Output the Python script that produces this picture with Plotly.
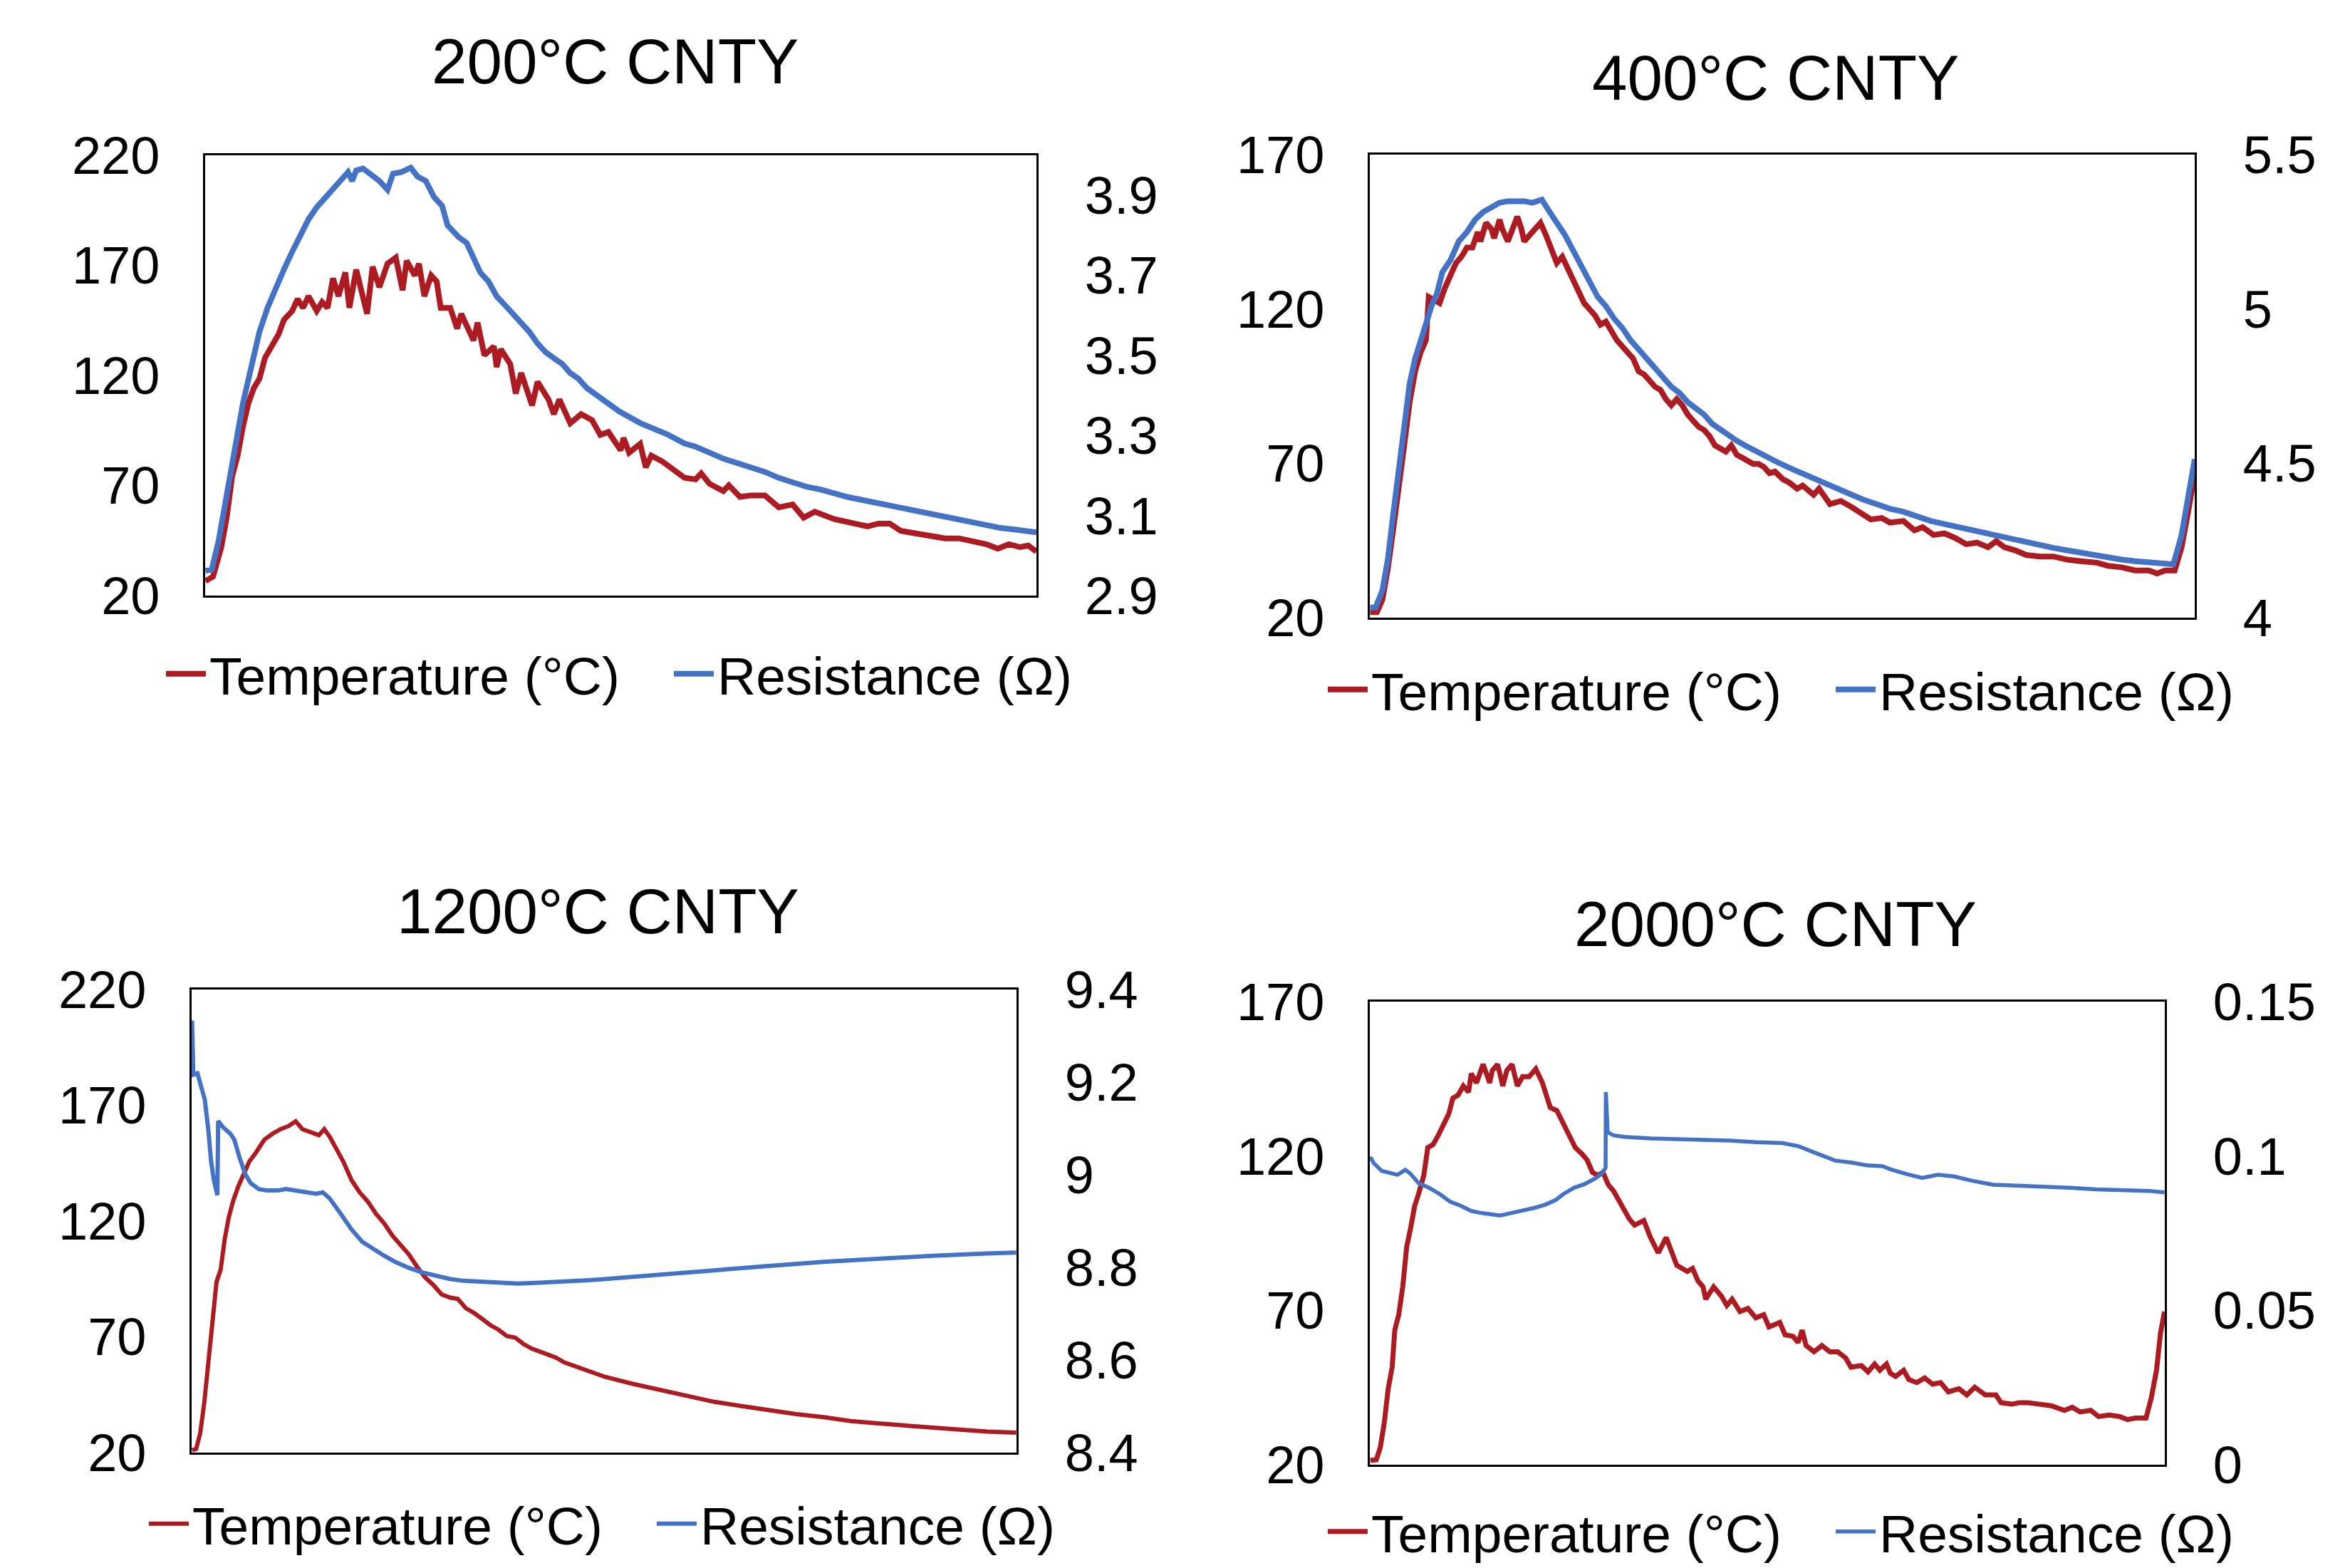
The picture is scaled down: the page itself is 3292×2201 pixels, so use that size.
import plotly.graph_objects as go

W, H = 3292, 2201
FONT = "Liberation Sans, Arial, Helvetica, sans-serif"
RED = "#AD1B22"
BLUE = "#4472C4"

# ---------------- data (x = relative time, % of record) ----------------
# 200 °C CNTY
t200_x = [0.04, 0.95, 1.94, 2.59, 3.25, 3.91, 4.56, 5.22, 5.87, 6.53, 7.19, 7.84, 8.82, 9.48, 10.47, 11.12,
          11.78, 12.43, 13.42, 14.07, 14.73, 15.38, 16.04, 16.86, 17.35, 18.17, 18.99, 19.48, 20.14, 20.96,
          21.94, 22.93, 23.75, 24.24, 25.22, 25.72, 26.37, 27.19, 27.85, 28.34, 29.49, 30.31, 30.80, 31.78,
          32.28, 32.77, 33.59, 34.74, 35.06, 35.56, 36.70, 37.36, 38.02, 39.33, 39.98, 41.30, 41.95, 42.61,
          43.92, 45.23, 46.54, 47.53, 48.51, 49.99, 50.33, 51.0, 52.33, 53.0, 53.67, 55.0, 56.34, 57.67,
          59.0, 59.67, 60.67, 62.34, 63.0, 64.34, 65.67, 67.34, 69.0, 70.67, 72.0, 73.34, 75.68, 77.34,
          79.68, 81.01, 82.34, 83.68, 85.68, 87.35, 89.01, 90.68, 92.35, 94.01, 95.35, 96.68, 98.02, 99.02, 100.0]
t200_temp = [26.6, 28.6, 42.0, 55.4, 74.2, 83.6, 97.0, 107.7, 114.4, 118.5, 127.9, 131.9, 138.6, 145.3, 149.3, 154.7,
             150.7, 156.0, 149.3, 153.3, 150.7, 164.1, 156.0, 166.8, 150.7, 168.1, 156.0, 148.0, 169.4, 160.1,
             170.8, 173.5, 158.7, 172.1, 165.4, 170.8, 156.0, 165.4, 162.7, 150.7, 150.7, 141.3, 148.0, 139.9,
             135.9, 144.0, 129.2, 133.2, 123.8, 131.9, 125.2, 111.8, 121.1, 106.4, 117.1, 109.1, 102.4, 109.1,
             98.3, 102.4, 99.7, 93.0, 94.3, 86.0, 91.6, 84.9, 88.9, 78.2, 83.6, 80.9, 76.9, 73.5,
             72.8, 75.5, 70.8, 67.5, 70.1, 64.8, 65.5, 65.5, 60.1, 61.4, 55.4, 58.1, 54.7, 53.4,
             51.4, 52.7, 52.7, 49.4, 48.0, 47.3, 46.0, 46.0, 44.7, 43.3, 41.3, 43.3, 42.0, 42.7, 40.0]
r200_x = [0.04, 0.79, 1.61, 2.59, 3.58, 4.56, 5.55, 6.53, 7.51, 8.50, 9.48, 10.47, 11.45, 12.43, 13.42, 14.40,
          15.38, 16.37, 17.19, 17.68, 18.17, 18.99, 19.81, 20.96, 21.94, 22.60, 23.58, 24.73, 25.55, 26.54,
          27.52, 28.50, 29.16, 30.47, 31.46, 32.44, 33.10, 34.08, 35.06, 36.05, 37.03, 38.02, 39.0, 39.98,
          40.97, 41.95, 42.94, 43.92, 44.90, 45.89, 46.87, 47.86, 48.84, 49.82, 52.33, 54.0, 55.67, 57.67,
          59.0, 60.67, 62.34, 64.0, 65.67, 67.34, 69.0, 70.67, 72.34, 74.01, 75.68, 77.34, 79.01, 80.68,
          82.34, 84.01, 85.68, 87.35, 89.01, 90.68, 92.35, 94.01, 95.68, 97.35, 100.0]
r200_res = [2.962, 2.965, 3.036, 3.146, 3.272, 3.382, 3.471, 3.559, 3.619, 3.671, 3.715, 3.759, 3.803, 3.840, 3.870, 3.892,
            3.914, 3.936, 3.958, 3.936, 3.962, 3.967, 3.954, 3.936, 3.914, 3.954, 3.958, 3.969, 3.947, 3.936,
            3.896, 3.874, 3.825, 3.796, 3.781, 3.737, 3.707, 3.685, 3.648, 3.626, 3.604, 3.582, 3.559, 3.530,
            3.508, 3.493, 3.479, 3.456, 3.442, 3.419, 3.405, 3.390, 3.375, 3.360, 3.331, 3.316, 3.302, 3.280,
            3.272, 3.257, 3.242, 3.231, 3.220, 3.209, 3.194, 3.183, 3.172, 3.165, 3.154, 3.146, 3.139, 3.132,
            3.124, 3.117, 3.110, 3.101, 3.095, 3.088, 3.080, 3.074, 3.069, 3.065, 3.058]

# 400 °C CNTY
t400_x = [0.04, 0.86, 1.52, 2.18, 2.85, 3.51, 4.17, 4.83, 5.49, 6.15, 6.81, 7.14, 7.80, 8.46, 9.12, 9.79, 10.45,
          11.11, 11.77, 12.43, 13.09, 13.42, 14.08, 14.74, 15.07, 15.73, 16.06, 16.73, 17.39, 17.88, 18.38,
          18.71, 19.37, 20.03, 20.69, 21.35, 22.01, 22.67, 23.33, 24.0, 24.66, 25.32, 25.98, 26.64, 27.30,
          27.96, 28.62, 29.28, 29.94, 30.60, 31.27, 31.93, 32.59, 33.25, 33.91, 34.57, 35.23, 35.89, 36.55,
          37.21, 37.88, 38.54, 39.20, 39.86, 40.52, 41.18, 41.84, 42.50, 43.16, 43.82, 44.48, 45.15, 45.81,
          46.47, 47.13, 47.79, 48.45, 49.11, 50.10, 50.82, 51.81, 52.47, 53.80, 54.46, 55.78, 57.10, 58.42,
          59.41, 60.74, 62.06, 63.05, 64.70, 66.02, 67.01, 68.34, 69.66, 70.98, 72.30, 73.62, 74.95, 75.94,
          76.93, 78.25, 79.57, 81.22, 82.88, 84.53, 86.18, 88.16, 89.49, 91.14, 92.79, 94.44, 95.43, 96.43,
          97.58, 98.41, 99.24, 100.0]
t400_temp = [21.8, 21.8, 25.8, 35.8, 48.8, 63.8, 75.8, 89.8, 99.8, 105.8, 109.9, 123.9, 122.9, 121.9, 126.9, 130.9, 134.9,
             136.9, 139.9, 139.9, 144.9, 141.9, 147.9, 145.9, 142.9, 148.9, 145.9, 141.9, 146.9, 149.9, 145.9,
             141.9, 143.9, 145.9, 147.9, 143.9, 139.9, 134.9, 136.9, 132.9, 129.9, 125.9, 121.9, 119.9, 117.9,
             114.9, 115.9, 112.9, 109.9, 107.9, 105.9, 103.9, 99.8, 98.8, 96.8, 94.8, 93.8, 90.8, 88.8,
             90.8, 88.8, 85.8, 83.8, 81.8, 80.8, 78.8, 75.8, 74.8, 73.8, 75.8, 72.8, 71.8, 70.8,
             69.8, 69.8, 68.8, 66.8, 67.3, 64.8, 63.8, 61.8, 62.8, 59.8, 61.8, 56.8, 57.8, 55.8,
             54.3, 51.8, 52.3, 50.8, 51.3, 48.3, 49.3, 46.8, 47.3, 45.8, 43.8, 44.3, 42.8, 44.8,
             42.8, 41.8, 40.3, 39.8, 39.8, 38.8, 38.3, 37.8, 36.8, 36.3, 35.3, 35.3, 34.3, 35.3,
             35.3, 42.8, 54.8, 66.8]
r400_x = [0.04, 0.70, 1.52, 2.18, 2.85, 3.51, 4.17, 4.83, 5.49, 6.15, 6.81, 7.47, 8.13, 8.79, 9.79, 10.78, 11.77,
          12.76, 13.75, 14.74, 15.73, 16.73, 17.72, 18.71, 19.70, 20.86, 21.68, 22.67, 23.67, 24.66, 25.65,
          26.64, 27.63, 28.62, 29.61, 30.60, 31.60, 32.59, 33.58, 34.57, 35.56, 36.55, 37.54, 38.54, 39.53,
          40.52, 41.51, 42.50, 43.49, 44.48, 45.48, 46.47, 47.46, 48.45, 49.44, 51.48, 53.13, 54.79, 56.44,
          58.09, 59.74, 61.40, 63.05, 64.70, 66.35, 68.01, 69.66, 71.31, 72.96, 74.62, 76.27, 77.92, 79.57,
          81.22, 82.88, 84.53, 86.18, 87.83, 89.49, 91.14, 92.79, 94.44, 96.10, 97.42, 98.41, 99.24, 100.0]
r400_res = [4.033, 4.033, 4.088, 4.188, 4.338, 4.488, 4.638, 4.758, 4.839, 4.899, 4.959, 5.009, 5.049, 5.119, 5.159, 5.219, 5.249,
            5.289, 5.314, 5.329, 5.344, 5.349, 5.349, 5.349, 5.344, 5.354, 5.319, 5.279, 5.239, 5.189, 5.139,
            5.089, 5.039, 5.009, 4.969, 4.939, 4.899, 4.869, 4.839, 4.809, 4.778, 4.748, 4.728, 4.698, 4.678,
            4.658, 4.628, 4.608, 4.588, 4.573, 4.558, 4.543, 4.528, 4.513, 4.503, 4.478, 4.458, 4.438, 4.418,
            4.403, 4.383, 4.368, 4.353, 4.343, 4.328, 4.313, 4.303, 4.293, 4.283, 4.273, 4.263, 4.253, 4.243,
            4.233, 4.226, 4.218, 4.210, 4.203, 4.196, 4.188, 4.183, 4.178, 4.175, 4.173, 4.268, 4.408, 4.513]

# 1200 °C CNTY
t1200_x = [0.05, 0.55, 1.04, 1.54, 2.03, 2.53, 3.02, 3.52, 4.02, 4.51, 5.01, 5.67, 6.33, 6.99, 7.82, 8.81, 9.80,
           10.79, 11.78, 12.61, 13.43, 14.42, 15.42, 16.08, 16.74, 17.56, 18.39, 19.38, 20.37, 21.36, 22.36,
           23.35, 24.34, 25.33, 26.32, 27.31, 28.30, 29.30, 30.29, 31.28, 32.27, 33.26, 34.25, 35.24, 36.24,
           37.23, 38.22, 39.21, 40.20, 41.19, 42.19, 43.18, 44.17, 45.16, 46.15, 47.14, 48.13, 49.12, 50.12,
           53.47, 56.78, 60.08, 63.39, 66.69, 70.0, 73.30, 76.61, 79.91, 83.22, 86.52, 89.83, 93.13, 96.44, 99.97]
t1200_temp = [21.0, 21.6, 28.3, 41.7, 59.0, 79.0, 93.7, 99.0, 112.4, 121.7, 128.4, 135.1, 140.4, 145.7, 149.7, 155.1, 157.7,
              159.7, 161.1, 163.1, 159.7, 158.4, 157.1, 159.7, 156.4, 151.1, 145.7, 137.7, 132.4, 128.4, 123.1,
              119.0, 113.7, 109.7, 105.7, 100.4, 95.7, 92.4, 88.4, 87.0, 86.4, 82.3, 80.3, 77.7, 75.0,
              73.0, 70.3, 69.7, 67.0, 65.0, 63.7, 62.3, 61.0, 59.0, 57.7, 56.3, 55.0, 53.7, 52.7,
              49.7, 47.0, 44.3, 41.9, 40.1, 38.3, 36.6, 35.3, 33.6, 32.6, 31.6, 30.7, 29.9, 29.1, 28.6]
r1200_x = [0.05, 0.21, 0.71, 1.21, 1.60, 2.03, 2.36, 2.69, 3.12, 3.22, 3.85, 4.68, 5.17, 5.83, 6.49, 7.15, 8.15,
           9.14, 10.46, 11.45, 12.44, 13.76, 15.09, 15.91, 16.74, 18.06, 19.38, 20.70, 22.03, 23.35, 24.67,
           26.32, 27.97, 29.63, 31.28, 32.93, 34.58, 36.24, 37.89, 39.54, 41.19, 42.85, 44.50, 46.15, 47.80,
           49.46, 56.78, 63.39, 70.0, 76.61, 83.22, 89.83, 96.44, 99.97]
r1200_res = [9.333, 9.216, 9.219, 9.189, 9.162, 9.096, 9.029, 8.989, 8.956, 9.116, 9.102, 9.089, 9.076, 9.036, 9.002, 8.982, 8.969,
             8.966, 8.966, 8.969, 8.966, 8.962, 8.959, 8.962, 8.949, 8.916, 8.882, 8.855, 8.839, 8.825, 8.812,
             8.799, 8.789, 8.781, 8.775, 8.771, 8.769, 8.767, 8.765, 8.765, 8.766, 8.767, 8.769, 8.770, 8.772,
             8.774, 8.785, 8.795, 8.803, 8.812, 8.819, 8.825, 8.830, 8.832]

# 2000 °C CNTY
t2000_x = [0.06, 0.82, 1.32, 1.82, 2.31, 2.81, 3.14, 3.64, 4.14, 4.64, 5.13, 5.63, 6.13, 6.79, 7.29, 7.95, 8.61,
           9.28, 9.94, 10.44, 11.10, 11.76, 12.42, 12.76, 13.42, 14.25, 15.08, 15.41, 16.07, 16.73, 17.23,
           17.89, 18.56, 19.22, 20.05, 20.88, 21.71, 22.20, 22.70, 23.53, 24.36, 25.19, 25.85, 26.68, 27.34,
           28.00, 28.67, 29.33, 29.99, 30.65, 31.65, 32.64, 33.31, 34.47, 35.30, 36.29, 37.28, 37.95, 38.61,
           39.93, 40.60, 41.26, 41.92, 42.25, 43.25, 44.24, 44.91, 45.57, 46.56, 47.56, 48.55, 49.55, 50.21,
           51.57, 52.23, 53.22, 53.89, 54.38, 54.88, 55.88, 56.87, 57.86, 58.86, 59.85, 60.52, 61.84, 62.67,
           63.50, 64.16, 64.99, 65.49, 66.15, 67.15, 67.81, 68.80, 69.80, 70.79, 71.79, 72.78, 74.11, 75.10,
           76.10, 77.42, 78.75, 79.41, 80.74, 81.73, 82.72, 84.05, 85.71, 87.36, 88.36, 89.35, 90.68, 91.67,
           93.0, 94.32, 95.32, 96.31, 97.64, 98.30, 98.96, 99.46, 99.96]
t2000_temp = [21.4, 21.6, 25.6, 33.6, 44.6, 51.6, 63.6, 68.6, 77.6, 90.6, 96.6, 103.7, 107.7, 113.7, 122.7, 123.7, 126.7,
              130.7, 133.7, 138.7, 139.7, 142.7, 140.7, 146.7, 143.7, 149.7, 143.7, 147.7, 149.7, 142.7, 147.7,
              149.7, 142.7, 145.7, 145.7, 148.2, 143.7, 139.7, 135.7, 134.7, 130.7, 126.7, 122.7, 120.7, 118.7,
              114.7, 113.7, 114.7, 110.7, 108.7, 103.7, 99.6, 97.6, 99.1, 93.6, 88.6, 93.6, 88.6, 84.6,
              82.6, 83.6, 79.6, 77.6, 73.6, 77.6, 74.6, 71.6, 73.6, 69.6, 70.6, 67.6, 68.6, 64.6,
              66.1, 62.1, 61.6, 59.6, 63.6, 58.6, 56.6, 58.6, 56.6, 56.6, 54.6, 51.6, 52.1, 50.1,
              52.6, 50.6, 52.6, 49.6, 48.6, 50.6, 47.6, 46.6, 48.1, 46.1, 46.6, 43.6, 44.6, 42.6,
              45.1, 42.6, 42.6, 40.1, 39.6, 40.1, 40.1, 39.6, 39.1, 37.6, 38.6, 37.1, 37.6, 35.6,
              36.1, 35.6, 34.6, 35.1, 35.1, 41.6, 50.6, 62.6, 69.6]
r2000_x = [0.06, 0.49, 1.49, 2.48, 3.48, 4.47, 5.13, 6.13, 7.45, 8.78, 10.10, 11.43, 12.76, 14.08, 15.41, 16.40,
           17.73, 19.05, 20.71, 22.04, 23.36, 24.36, 25.68, 27.01, 28.33, 29.16, 29.66, 29.69, 29.92, 30.65,
           31.98, 35.30, 38.61, 41.92, 45.24, 48.55, 51.90, 53.89, 55.88, 58.53, 60.52, 62.51, 64.49, 65.49,
           67.48, 69.47, 71.45, 73.44, 75.76, 78.41, 81.40, 84.71, 88.03, 91.34, 94.66, 97.97, 99.96]
r2000_res = [0.0997, 0.0977, 0.0952, 0.0947, 0.0939, 0.0955, 0.0942, 0.0912, 0.0897, 0.0877, 0.0852, 0.0839, 0.0822, 0.0815, 0.0810, 0.0807,
             0.0815, 0.0822, 0.0832, 0.0842, 0.0857, 0.0877, 0.0897, 0.0909, 0.0927, 0.0942, 0.0962, 0.1207, 0.1077, 0.1067,
             0.1062, 0.1057, 0.1055, 0.1053, 0.1050, 0.1045, 0.1042, 0.1032, 0.1012, 0.0985, 0.0979, 0.0970, 0.0967, 0.0957,
             0.0942, 0.0929, 0.0939, 0.0934, 0.0920, 0.0907, 0.0904, 0.0902, 0.0897, 0.0892, 0.0889, 0.0887, 0.0882]

titles = ["200°C CNTY", "400°C CNTY", "1200°C CNTY", "2000°C CNTY"]
temp_ranges = [[20, 220], [20, 170], [20, 220], [20, 170]]
res_ranges = [[2.9, 4.0], [4.0, 5.5], [8.4, 9.4], [0.0, 0.15]]
res_dticks = [0.2, 0.5, 0.2, 0.05]
series = [
    (t200_x, t200_temp, r200_x, r200_res),
    (t400_x, t400_temp, r400_x, r400_res),
    (t1200_x, t1200_temp, r1200_x, r1200_res),
    (t2000_x, t2000_temp, r2000_x, r2000_res),
]
red_widths = [8, 8, 6, 7]
blue_widths = [8, 8, 6, 5.5]

# ---------------- layout geometry (pixels) ----------------
frames = [(288, 1455, 218, 836), (1923, 3081, 217, 867), (269, 1427, 1389, 2039), (1923, 3039, 1406, 2056)]
title_pos = [(863, 86), (2492, 109), (839, 1279), (2492, 1297)]
legend_pos = [(228, 946), (1859, 968), (204, 2139), (1859, 2150)]


def px_x(v):
    return v / W


def px_y(v):
    return 1 - v / H


fig = go.Figure()
layout = dict(
    width=W, height=H, autosize=False,
    margin=dict(l=0, r=0, t=0, b=0, pad=0, autoexpand=False),
    paper_bgcolor="white", plot_bgcolor="white",
    font=dict(family=FONT, size=74, color="black"),
    annotations=[],
)

for i, (tx, tv, rx, rv) in enumerate(series):
    n = i + 1
    xa = "x" if n == 1 else f"x{n}"
    ya_l = "y" if n == 1 else f"y{2 * n - 1}"
    ya_r = f"y{2 * n}"
    leg = "legend" if n == 1 else f"legend{n}"
    fig.add_trace(go.Scatter(x=tx, y=tv, mode="lines", name="Temperature (°C)",
                             line=dict(color=RED, width=red_widths[i]), xaxis=xa, yaxis=ya_l, legend=leg))
    fig.add_trace(go.Scatter(x=rx, y=rv, mode="lines", name="Resistance (Ω)",
                             line=dict(color=BLUE, width=blue_widths[i]), xaxis=xa, yaxis=ya_r, legend=leg))

    x0, x1, y0, y1 = frames[i]
    xkey = "xaxis" if n == 1 else f"xaxis{n}"
    ylkey = "yaxis" if n == 1 else f"yaxis{2 * n - 1}"
    yrkey = f"yaxis{2 * n}"
    layout[xkey] = dict(domain=[px_x(x0), px_x(x1)], range=[0, 100], anchor=ya_l,
                        showticklabels=False, ticks="", showgrid=False, zeroline=False,
                        showline=True, mirror=True, linecolor="black", linewidth=2.5)
    layout[ylkey] = dict(domain=[px_y(y1), px_y(y0)], range=temp_ranges[i], anchor=xa,
                         tick0=20, dtick=50, ticks="outside", ticklen=0, ticklabelstandoff=46,
                         showgrid=False, zeroline=False,
                         showline=True, mirror=True, linecolor="black", linewidth=2.5,
                         tickfont=dict(size=74, family=FONT, color="black"))
    layout[yrkey] = dict(range=res_ranges[i], overlaying=ya_l, anchor=xa, side="right",
                         tick0=res_ranges[i][0], dtick=res_dticks[i], ticks="outside", ticklen=0,
                         ticklabelstandoff=52, showgrid=False, zeroline=False, showline=False,
                         tickfont=dict(size=74, family=FONT, color="black"))
    lx, ly = legend_pos[i]
    layout[leg] = dict(orientation="h", x=px_x(lx), y=px_y(ly), xanchor="left", yanchor="middle",
                       font=dict(size=75, family=FONT, color="black"), bgcolor="rgba(0,0,0,0)",
                       itemwidth=56, entrywidth=642, entrywidthmode="pixels")
    tx_, ty_ = title_pos[i]
    layout["annotations"].append(dict(text=titles[i], x=px_x(tx_), y=px_y(ty_), xref="paper", yref="paper",
                                      xanchor="center", yanchor="middle", showarrow=False,
                                      font=dict(size=89, family=FONT, color="black")))

fig.update_layout(**layout)
fig.write_html("out.html", config={"displayModeBar": False},
               post_script="document.body.style.margin='0';")
